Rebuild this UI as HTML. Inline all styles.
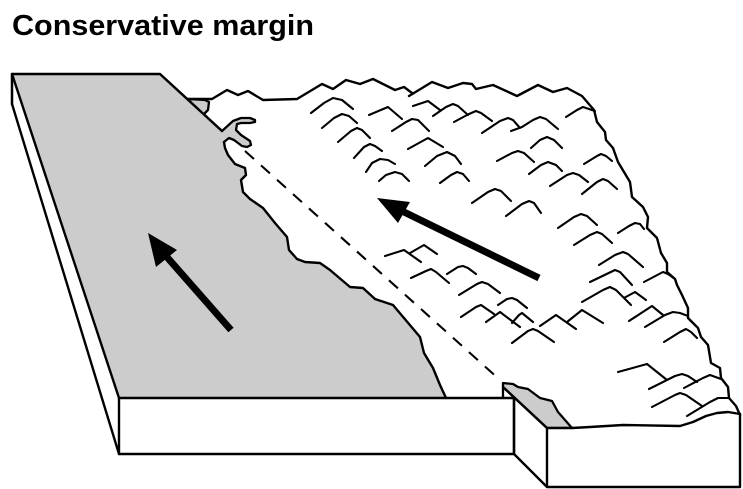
<!DOCTYPE html>
<html><head><meta charset="utf-8"><style>
html,body{margin:0;padding:0;background:#fff}
svg{display:block}
text{font-family:"Liberation Sans",Arial,sans-serif;font-weight:bold}
</style></head><body>
<svg width="743" height="489" viewBox="0 0 743 489" xmlns="http://www.w3.org/2000/svg">
<text x="12" y="35" font-size="28.5" textLength="302" lengthAdjust="spacingAndGlyphs" fill="#000">Conservative margin</text>

<g stroke-linejoin="round" stroke-linecap="round" fill="none" stroke="#000">
<!-- grey main surface -->
<path fill="#ccc" stroke="none" d="M12,74 L160,74 L222,131 L224,142 L228,155 L235,164 L245,168 L246,175 L241,180 L243,192 L250,199 L263,208 L275,223 L287,237 L289,250 L297,259 L305,262 L320,263 L330,270 L350,287 L363,288 L375,299 L393,305 L420,337 L424,353 L433,368 L440,385 L446,398 L119,398 Z"/>
<!-- small grey -->
<path fill="#ccc" stroke-width="2.3" d="M188,99 L205,100 L209,102 L208,110 L205,113"/>
<!-- hook -->
<path class="s" fill="#ccc" stroke-width="2.3" d="M222,131 L233,121 L241,118 L250,118 L255,120 L255,122 L250,123 L241,123 L237,124 L236,130 L241,135 L250,141 L251,145 L247,147 L242,146 L234,140 L229,138 L224,142"/>
<!-- coast -->
<path class="s" stroke-width="2.4" d="M224,142 L225,148 L228,155 L235,164 L245,168 L246,175 L241,180 L243,192 L250,199 L263,208 L275,223 L287,237 L289,250 L297,259 L305,262 L320,263 L330,270 L350,287 L363,288 L375,299 L393,305 L420,337 L424,353 L433,368 L440,385 L446,398"/>
<!-- top edges -->
<path stroke-width="2.5" d="M12,104 L12,74 L160,74 L222,131"/>
<path stroke-width="2.4" d="M12,74 L119,398 L514,398 L514,454 L119,454 L119,398"/>
<path stroke-width="2.4" d="M12,104 L119,454"/>
<!-- back edge -->
<path class="s" stroke-width="2.4" d="M188,99 L212,99 L227,90 L238,95 L248,91 L263,100 L297,99 L322,84 L333,89 L346,80 L360,84 L373,79 L395,90 L404,87 L412,93"/>
<path class="s" stroke-width="2.4" d="M409,96 L432,82 L448,88 L463,83 L472,84 L476,89 L493,85 L517,96 L538,85 L553,92 L567,88 L582,96 L594,110 L597,122 L605,132 L606,140 L613,148 L618,162 L630,182 L632,197 L643,207 L648,217 L647,228 L657,238 L661,253 L667,263 L667,272 L675,279 L677,285 L682,295 L688,308 L688,318 L698,328 L701,337 L708,345 L711,363 L720,368 L721,378 L728,387 L729,398 L736,406 L740,415"/>
<!-- right block -->
<path class="s" fill="#ccc" stroke-width="2.3" d="M503,397 L503,383 L513,384 L518,387 L528,389 L540,398 L552,401 L558,412 L572,428 L547,428 L503,387"/>
<path fill="#fff" stroke="none" d="M547,428 L572,428 L590,427 L623,425 L680,426 L693,422 L706,416 L717,413 L728,412 L740,414 L740,487 L547,487 Z"/>
<path class="s" stroke-width="2.4" d="M572,428 L590,427 L623,425 L680,426 L693,422 L706,416 L717,413 L728,412 L740,414"/>
<path stroke-width="2.4" d="M547,428 L547,487 L740,487 L740,414 M503,387 L547,428 L572,428 M514,398 L514,454 L547,487"/>
<!-- dashed -->
<path stroke-width="2.1" stroke-linecap="butt" stroke-dasharray="12 9.5" d="M245,151 L500,380"/>
<!-- ticks -->
<path class="s t" stroke-width="2.1" d="M311,113 L324,103 L333,98 L342,100 L353,109
M322,128 L334,118 L342,114 L349,116 L357,123
M338,142 L351,131 L357,128 L362,130 L370,138
M354,158 L364,147 L370,144 L375,146 L382,151
M366,172 L372,163 L380,159 L388,160 L395,164
M379,181 L386,175 L395,172 L402,174 L409,181
M369,115 L388,107 L402,119
M392,131 L406,122 L412,119 L418,120 L429,131
M408,149 L428,138 L443,147
M425,166 L437,156 L447,152 L455,156 L461,164
M440,183 L451,175 L457,172 L463,174 L469,181
M413,106 L428,101 L440,110
M433,116 L446,107 L453,104 L458,106 L468,115
M454,122 L469,114 L476,111 L481,113 L492,121
M482,133 L500,121 L508,118 L513,120 L520,128
M511,131 L522,127 L533,120 L540,117 L546,119 L558,129
M566,117 L577,110 L583,107 L595,111
M531,148 L540,140 L547,137 L554,140 L562,148
M497,161 L512,153 L518,151 L524,153 L534,162
M529,174 L541,165 L548,162 L556,165 L562,171
M550,186 L567,175 L573,173 L579,175 L588,182
M584,164 L597,156 L601,154 L606,156 L612,161
M582,194 L597,182 L603,179 L608,181 L617,189
M472,203 L488,192 L495,189 L501,191 L511,201
M506,216 L522,204 L529,201 L534,203 L541,213
M558,228 L574,217 L581,214 L587,216 L597,225
M574,245 L590,235 L597,232 L602,234 L612,243
M618,233 L629,226 L635,223 L640,224 L644,229
M599,265 L615,255 L623,252 L628,254 L643,267
M590,282 L615,270 L620,272 L632,285
M644,282 L663,272 L668,274 L675,279
M582,302 L603,290 L610,287 L616,290 L631,305
M624,298 L635,292 L646,300
M629,321 L652,306 L663,315
M645,327 L665,315 L673,312 L680,313 L688,316
M664,342 L680,332 L686,329 L691,332 L697,338
M618,372 L647,364 L667,380
M649,389 L675,376 L682,374 L688,376 L697,382
M684,388 L703,378 L710,375 L721,379
M652,407 L675,395 L680,393 L686,395 L702,406
M687,416 L710,402 L718,398 L729,398
M540,326 L556,315 L576,329
M567,322 L582,310 L603,323
M512,343 L528,331 L533,329 L538,331 L554,342
M498,305 L507,299 L512,298 L517,300 L527,308
M512,323 L519,315 L522,313 L533,322
M385,256 L404,250 L421,262
M410,253 L424,245 L437,254
M411,278 L426,271 L431,269 L436,272 L449,283
M447,274 L458,267 L463,266 L468,268 L476,274
M459,295 L477,284 L482,282 L488,284 L500,293
M461,317 L476,307 L481,305 L494,314
M486,322 L500,312 L520,327"/>
</g>
<!-- arrows -->
<path d="M539,278 L404,212" stroke="#000" stroke-width="7" fill="none"/>
<path d="M377,198 L410,202 L398,223 Z" fill="#000"/>
<path d="M231,330 L166,256" stroke="#000" stroke-width="7" fill="none"/>
<path d="M148,233 L177,250 L156,267 Z" fill="#000"/>
<script>
// Round the corners of hand-traced polylines (quadratic through midpoints).
document.querySelectorAll('path.s').forEach(function(p){
  var out='';
  p.getAttribute('d').split('M').forEach(function(seg){
    var n=seg.match(/-?[\d.]+/g);
    if(!n)return;
    var a=[];
    for(var i=0;i<n.length;i+=2)a.push([+n[i],+n[i+1]]);
    out+='M'+a[0];
    for(var j=1;j<a.length-1;j++){
      var mx=(a[j][0]+a[j+1][0])/2,my=(a[j][1]+a[j+1][1])/2;
      out+=' Q'+a[j]+' '+mx+','+my;
    }
    out+=' L'+a[a.length-1]+' ';
  });
  p.setAttribute('d',out);
});
</script>
</svg>
</body></html>
